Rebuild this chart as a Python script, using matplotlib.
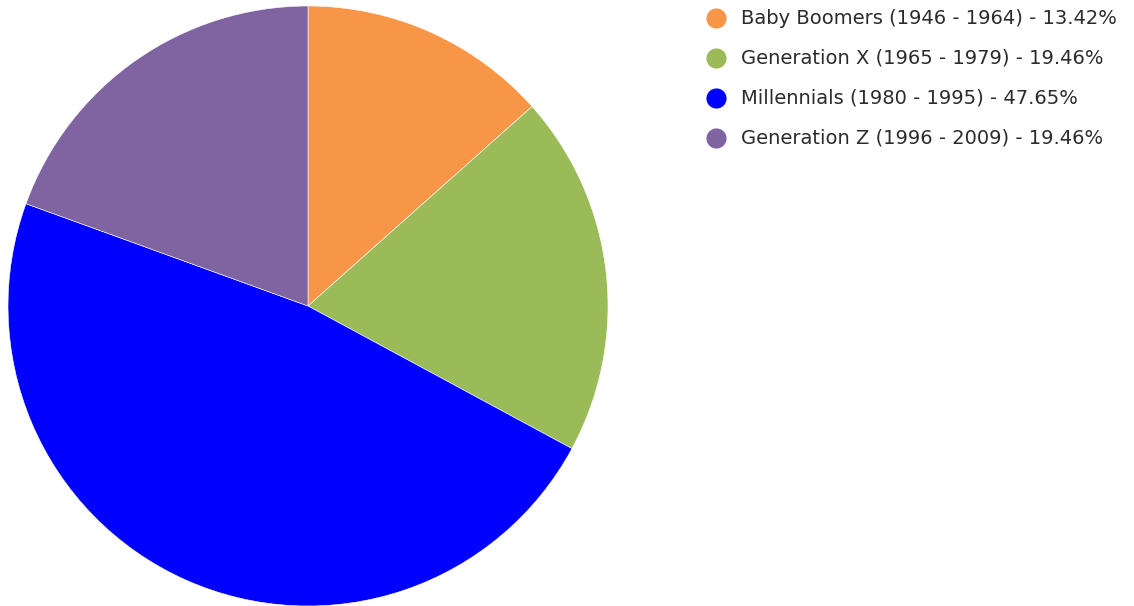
import matplotlib.pyplot as plt
from matplotlib.lines import Line2D

generations = [
    "Baby Boomers (1946 - 1964)",
    "Generation X (1965 - 1979)",
    "Millennials (1980 - 1995)",
    "Generation Z (1996 - 2009)",
]
shares = [13.42, 19.46, 47.65, 19.46]
colors = ["#F79646", "#9BBB59", "#0000FF", "#8064A2"]

W, H = 1134, 606
fig = plt.figure(figsize=(W / 100, H / 100), dpi=100)

# pie occupies the left part of the canvas
ax = fig.add_axes([8 / W, 0, 600 / W, 600 / H])
ax.pie(shares, colors=colors, startangle=90, counterclock=False,
       radius=1.0, wedgeprops=dict(edgecolor="white", linewidth=0.4))
ax.set_xlim(-1, 1)
ax.set_ylim(-1, 1)
ax.set_aspect("equal")
ax.axis("off")

# legend drawn by hand: dot + label per row
for i, (name, val, c) in enumerate(zip(generations, shares, colors)):
    y = 1 - (18 + 40 * i) / H
    fig.add_artist(Line2D([716 / W], [y], marker="o", markersize=14.5,
                          color=c, markeredgewidth=0, transform=fig.transFigure))
    fig.text(741 / W, y, f"{name} - {val:.2f}%", fontsize=14,
             family="DejaVu Sans", color="#2b2b2b", va="center", ha="left")

fig.savefig("out.png", dpi=100)
